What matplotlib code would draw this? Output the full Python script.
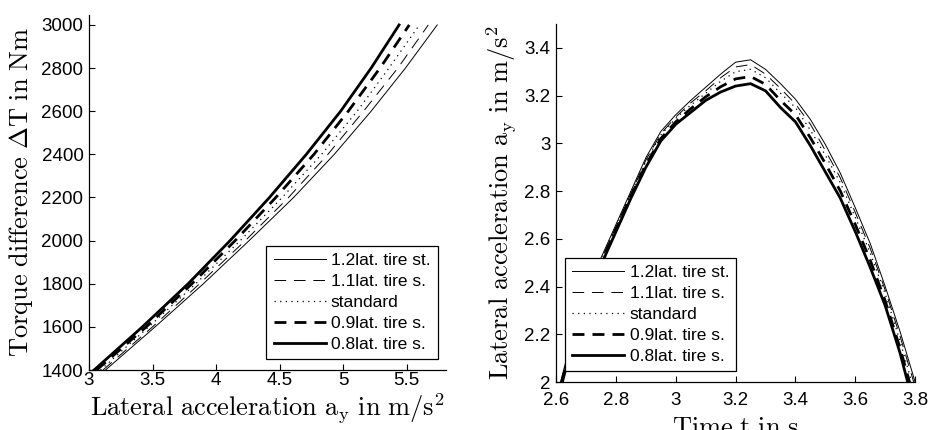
import matplotlib
matplotlib.use("Agg")
import matplotlib.pyplot as plt

plt.rcParams["font.family"] = ["Liberation Sans", "DejaVu Sans"]
plt.rcParams["mathtext.fontset"] = "cm"

# Series labels and line styles (label, linestyle, linewidth)
labels = ["1.2lat. tire st.", "1.1lat. tire s.", "standard", "0.9lat. tire s.", "0.8lat. tire s."]
styles = [("-", 0.7), ((0, (12, 8)), 0.7), ((0, (1, 3.5)), 0.9), ((0, (4.3, 2.9)), 2.0), ("-", 2.0)]

# Left panel: torque difference over lateral acceleration
torque = [1400, 1600, 1800, 2000, 2200, 2400, 2600, 2800, 3000]
ay_12 = [3.13, 3.52, 3.90, 4.26, 4.61, 4.93, 5.22, 5.49, 5.74]
ay_11 = [3.11, 3.50, 3.87, 4.23, 4.57, 4.88, 5.16, 5.43, 5.67]
ay_10 = [3.09, 3.47, 3.84, 4.19, 4.52, 4.83, 5.11, 5.36, 5.60]
ay_09 = [3.06, 3.45, 3.81, 4.15, 4.47, 4.77, 5.04, 5.29, 5.52]
ay_08 = [3.04, 3.42, 3.78, 4.11, 4.42, 4.71, 4.98, 5.22, 5.44]

# Right panel: lateral acceleration over time
time = [2.60, 2.65, 2.70, 2.75, 2.80, 2.85, 2.90, 2.95, 3.00, 3.05, 3.10, 3.15, 3.20,
        3.25, 3.30, 3.35, 3.40, 3.45, 3.50, 3.55, 3.60, 3.65, 3.70, 3.75, 3.80]
acc_12 = [1.93, 2.17, 2.36, 2.52, 2.66, 2.80, 2.94, 3.05, 3.12, 3.18, 3.235, 3.29, 3.34,
          3.35, 3.31, 3.25, 3.185, 3.10, 2.995, 2.875, 2.73, 2.58, 2.40, 2.21, 2.00]
acc_11 = [1.92, 2.16, 2.35, 2.51, 2.65, 2.79, 2.93, 3.04, 3.11, 3.17, 3.22, 3.275, 3.32,
          3.33, 3.29, 3.23, 3.165, 3.08, 2.97, 2.855, 2.71, 2.56, 2.385, 2.19, 1.98]
acc_10 = [1.92, 2.16, 2.35, 2.51, 2.65, 2.79, 2.925, 3.035, 3.105, 3.16, 3.21, 3.26, 3.30,
          3.31, 3.275, 3.21, 3.15, 3.055, 2.95, 2.835, 2.69, 2.54, 2.37, 2.17, 1.95]
acc_09 = [1.91, 2.15, 2.34, 2.50, 2.64, 2.78, 2.91, 3.02, 3.09, 3.145, 3.195, 3.237, 3.27,
          3.28, 3.247, 3.18, 3.12, 3.023, 2.915, 2.80, 2.66, 2.51, 2.34, 2.14, 1.916]
acc_08 = [1.90, 2.14, 2.33, 2.49, 2.63, 2.77, 2.90, 3.01, 3.08, 3.13, 3.18, 3.215, 3.24,
          3.25, 3.22, 3.15, 3.09, 2.99, 2.88, 2.77, 2.63, 2.48, 2.32, 2.12, 1.88]

left_series = [ay_12, ay_11, ay_10, ay_09, ay_08]
right_series = [acc_12, acc_11, acc_10, acc_09, acc_08]

fig = plt.figure(figsize=(9.3, 4.3), dpi=100)
ax1 = fig.add_axes([0.0957, 0.1395, 0.384, 0.8256])
ax2 = fig.add_axes([0.598, 0.1116, 0.386, 0.8326])


def style_axes(ax, xpad):
    for side in ("top", "right"):
        ax.spines[side].set_visible(False)
    for side in ("left", "bottom"):
        ax.spines[side].set_linewidth(0.9)
    ax.tick_params(direction="in", length=4, width=0.8, labelsize=13.5, pad=4)
    ax.tick_params(axis="x", pad=xpad)


for x, lab, (ls, lw) in zip(left_series, labels, styles):
    ax1.plot(x, torque, color="black", linestyle=ls, linewidth=lw, label=lab)
ax1.set_xlim(3, 5.81)
ax1.set_ylim(1400, 3046)
ax1.set_xticks([3, 3.5, 4, 4.5, 5, 5.5])
ax1.set_xticklabels(["3", "3.5", "4", "4.5", "5", "5.5"])
ax1.set_yticks(range(1400, 3001, 200))
style_axes(ax1, xpad=1.5)
ax1.set_xlabel(r"$\mathrm{Lateral\ acceleration\ a_y\ in\ m/s^2}$", fontsize=19, labelpad=2)
ax1.set_ylabel(r"$\mathrm{Torque\ difference\ \Delta T\ in\ Nm}$", fontsize=19, labelpad=5)

for y, lab, (ls, lw) in zip(right_series, labels, styles):
    ax2.plot(time, y, color="black", linestyle=ls, linewidth=lw, label=lab)
ax2.set_xlim(2.6, 3.8)
ax2.set_ylim(2, 3.5)
ax2.set_xticks([2.6, 2.8, 3.0, 3.2, 3.4, 3.6, 3.8])
ax2.set_xticklabels(["2.6", "2.8", "3", "3.2", "3.4", "3.6", "3.8"])
ax2.set_yticks([2, 2.2, 2.4, 2.6, 2.8, 3.0, 3.2, 3.4])
ax2.set_yticklabels(["2", "2.2", "2.4", "2.6", "2.8", "3", "3.2", "3.4"])
style_axes(ax2, xpad=7)
ax2.set_xlabel(r"$\mathrm{Time\ t\ in\ s}$", fontsize=19, labelpad=5)
ax2.set_ylabel(r"$\mathrm{Lateral\ acceleration\ a_y\ in\ m/s^2}$", fontsize=19, labelpad=4)

legend_kw = dict(fontsize=12.5, handlelength=3.0, handletextpad=0.3, labelspacing=0.33,
                 borderpad=0.42, borderaxespad=0, fancybox=False, framealpha=1,
                 edgecolor="black", bbox_transform=fig.transFigure)
leg1 = ax1.legend(loc="upper right", bbox_to_anchor=(0.4707, 0.4279), **legend_kw)
leg2 = ax2.legend(loc="upper left", bbox_to_anchor=(0.6075, 0.4007), **legend_kw)
for leg in (leg1, leg2):
    leg.get_frame().set_linewidth(0.9)

fig.savefig("out.png", dpi=100)
